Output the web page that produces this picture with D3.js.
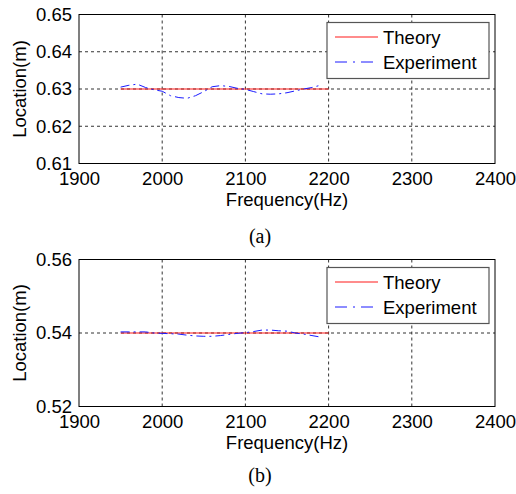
<!DOCTYPE html>
<html>
<head>
<meta charset="utf-8">
<script src="https://cdn.jsdelivr.net/npm/d3@7"></script>
<style>
  body { margin: 0; background: #fff; }
  svg { display: block; font-family: "Liberation Sans", Arial, sans-serif; }
</style>
</head>
<body>
<svg width="516" height="494"></svg>
<script>
// x ticks shared by both panels
let xTicks = [1900, 2000, 2100, 2200, 2300, 2400];

// panel (a)
let theoryFreqA = [1950, 2200];
let theoryLocA = [0.63, 0.63];
let expFreqA = [1950,1960,1970,1980,1990,2000,2010,2020,2030,2040,2050,2060,2070,2080,2090,2100,2110,2120,2130,2140,2150,2160,2170,2180,2190];
let expLocA = [0.6305,0.6310,0.6313,0.6304,0.6298,0.6294,0.6282,0.6277,0.6275,0.6282,0.6293,0.6306,0.6309,0.6307,0.6302,0.6299,0.6293,0.6287,0.6286,0.6287,0.6290,0.6295,0.6300,0.6304,0.6310];
let yTicksA = [0.61, 0.62, 0.63, 0.64, 0.65];

// panel (b)
let theoryFreqB = [1950, 2200];
let theoryLocB = [0.54, 0.54];
let expFreqB = [1950,1960,1970,1980,1990,2000,2010,2020,2030,2040,2050,2060,2070,2080,2090,2100,2110,2120,2130,2140,2150,2160,2170,2180,2190];
let expLocB = [0.5403,0.5403,0.5403,0.5403,0.5400,0.5399,0.5398,0.5397,0.5394,0.5392,0.5391,0.5391,0.5393,0.5396,0.5399,0.5401,0.5404,0.5408,0.5408,0.5406,0.5405,0.5400,0.5397,0.5393,0.5389];
let yTicksB = [0.52, 0.54, 0.56];

let legendNames = ["Theory", "Experiment"];

let svg = d3.select("svg");
let left = 79, right = 495;

function drawPanel(top, bottom, yTicks, tFreq, tLoc, eFreq, eLoc, caption, capY) {
	let x = d3.scaleLinear().domain([xTicks[0], xTicks[xTicks.length-1]]).range([left, right]);
	let y = d3.scaleLinear().domain([yTicks[0], yTicks[yTicks.length-1]]).range([bottom, top]);
	let g = svg.append("g");

	// grid
	g.selectAll(".gx").data(xTicks.slice(1, -1)).enter().append("line")
		.attr("x1", d => x(d)).attr("x2", d => x(d))
		.attr("y1", top).attr("y2", bottom)
		.attr("stroke", "#333").attr("stroke-dasharray", "3,3");
	g.selectAll(".gy").data(yTicks.slice(1, -1)).enter().append("line")
		.attr("y1", d => y(d)).attr("y2", d => y(d))
		.attr("x1", left).attr("x2", right)
		.attr("stroke", "#333").attr("stroke-dasharray", "3,3");

	// tick labels
	let ax = g.append("g").attr("transform", "translate(0," + bottom + ")")
		.call(d3.axisBottom(x).tickValues(xTicks).tickSize(0).tickPadding(8).tickFormat(d3.format("d")));
	let ay = g.append("g").attr("transform", "translate(" + left + ",0)")
		.call(d3.axisLeft(y).tickValues(yTicks).tickSize(0).tickPadding(7).tickFormat(d3.format(".2f")));
	[ax, ay].forEach(a => {
		a.select(".domain").remove();
		a.selectAll("text").attr("font-size", 18.5).attr("fill", "#000")
			.attr("font-family", "'Liberation Sans', Arial, sans-serif");
	});

	// lines
	let line = d3.line().x(d => x(d[0])).y(d => y(d[1]));
	g.append("path").datum(d3.zip(tFreq, tLoc))
		.attr("d", line).attr("fill", "none").attr("stroke", "#ff1a1a").attr("stroke-width", 1.1);
	g.append("path").datum(d3.zip(eFreq, eLoc))
		.attr("d", line).attr("fill", "none").attr("stroke", "#1a1aff").attr("stroke-width", 1)
		.attr("stroke-dasharray", "9,4,2,4");

	// box
	g.append("rect").attr("x", left).attr("y", top).attr("width", right - left).attr("height", bottom - top)
		.attr("fill", "none").attr("stroke", "#000").attr("stroke-width", 1);

	// legend
	let lg = g.append("g").attr("transform", "translate(327," + (top + 8) + ")");
	lg.append("rect").attr("width", 162).attr("height", 56)
		.attr("fill", "#fff").attr("stroke", "#555").attr("stroke-width", 1.2);
	legendNames.forEach((name, i) => {
		let ly = 14.5 + i * 25;
		lg.append("line").attr("x1", 8).attr("x2", 51).attr("y1", ly).attr("y2", ly)
			.attr("stroke", i == 0 ? "#ff1a1a" : "#1a1aff").attr("stroke-width", i == 0 ? 1.1 : 1)
			.attr("stroke-dasharray", i == 0 ? null : "12,6,2,6");
		lg.append("text").attr("x", 56).attr("y", ly + 6.5).attr("font-size", 18.5).text(name);
	});

	// axis titles
	g.append("text").attr("x", (left + right) / 2).attr("y", bottom + 42)
		.attr("text-anchor", "middle").attr("font-size", 18.5).text("Frequency(Hz)");
	g.append("text").attr("transform", "translate(26," + (top + bottom) / 2 + ") rotate(-90)")
		.attr("text-anchor", "middle").attr("font-size", 18.5).text("Location(m)");

	// caption
	svg.append("text").attr("x", 260).attr("y", capY).attr("text-anchor", "middle")
		.attr("font-family", "'Liberation Serif', 'Times New Roman', serif").attr("font-size", 20)
		.text(caption);
}

drawPanel(14.5, 163.5, yTicksA, theoryFreqA, theoryLocA, expFreqA, expLocA, "(a)", 243);
drawPanel(259.5, 406.5, yTicksB, theoryFreqB, theoryLocB, expFreqB, expLocB, "(b)", 482);
</script>
</body>
</html>
